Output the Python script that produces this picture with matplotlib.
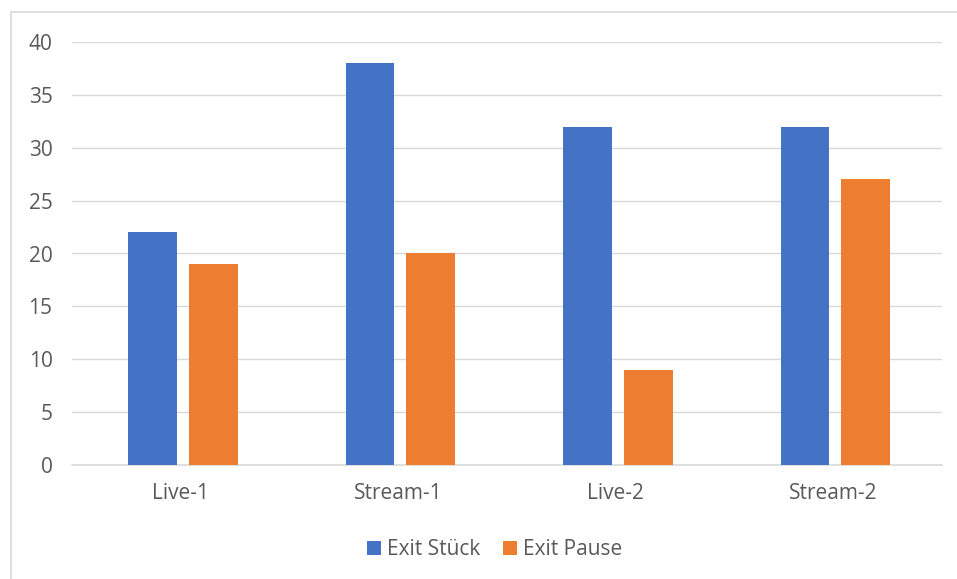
import numpy as np
import matplotlib.pyplot as plt
from matplotlib.patches import Rectangle

categories = ['Live-1', 'Stream-1', 'Live-2', 'Stream-2']
exit_stueck = [22, 38, 32, 32]
exit_pause = [19, 20, 9, 27]
yticks = [0, 5, 10, 15, 20, 25, 30, 35, 40]

plt.rcParams['font.family'] = ['Open Sans', 'DejaVu Sans']

fig = plt.figure(figsize=(9.57, 5.79), dpi=100)
# chart frame
fig.patches.append(Rectangle((11 / 957, -0.01), 1.0, (579 - 12) / 579 + 0.01,
                             transform=fig.transFigure, fill=False,
                             edgecolor='#d9d9d9', linewidth=1.2))

ax = fig.add_axes([72 / 957, (579 - 465) / 579, 870 / 957, 423 / 579])

x = np.arange(len(categories))
w = 0.225
ax.bar(x - 0.13, exit_stueck, width=w, color='#4472C4', label='Exit Stück', zorder=3)
ax.bar(x + 0.15, exit_pause, width=w, color='#ED7D31', label='Exit Pause', zorder=3)

ax.set_xlim(-0.5, len(categories) - 0.5)
ax.set_ylim(0, 40)
ax.set_yticks(yticks)
ax.set_xticks(x)
ax.set_xticklabels(categories)
ax.grid(axis='y', color='#d9d9d9', linewidth=1, zorder=0)
for s in ['top', 'right', 'left']:
    ax.spines[s].set_visible(False)
ax.spines['bottom'].set_color('#d9d9d9')
ax.spines['bottom'].set_linewidth(1.2)
ax.tick_params(axis='both', length=0, labelsize=15, colors='#595959')
ax.tick_params(axis='y', pad=14)
ax.tick_params(axis='x', pad=13)

ax.legend(loc='center', bbox_to_anchor=(0.486, -0.2), ncol=2, frameon=False,
          fontsize=15, labelcolor='#595959', handlelength=0.67, handleheight=0.67,
          handletextpad=0.3, columnspacing=1.1)

fig.savefig('out.png', dpi=100)
